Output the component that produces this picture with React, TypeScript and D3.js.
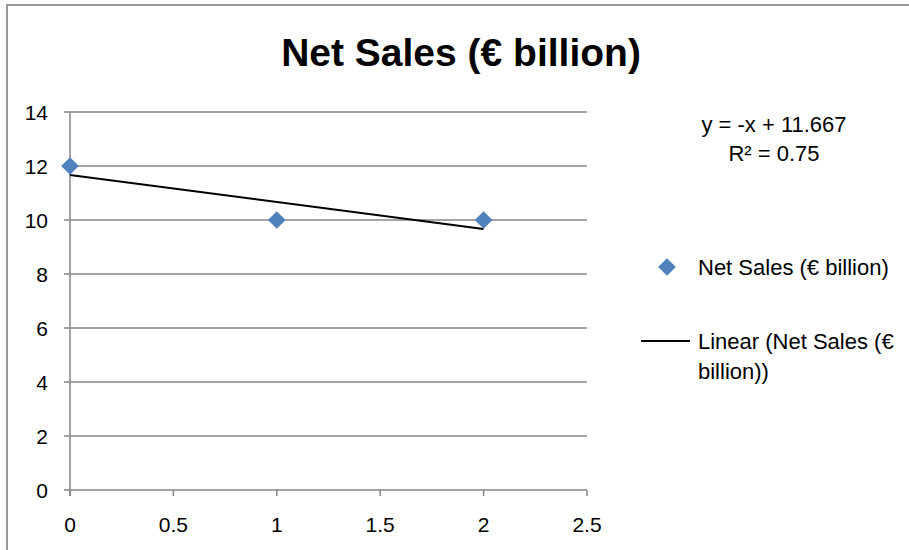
import React from "react";
import * as d3 from "d3";

const xValues = [0, 1, 2];
const salesValues = [12, 10, 10];
const xTicks = [0, 0.5, 1, 1.5, 2, 2.5];
const yTicks = [0, 2, 4, 6, 8, 10, 12, 14];
const title = "Net Sales (€ billion)";
const seriesName = "Net Sales (€ billion)";

const W = 909;
const H = 550;
const FONT = "'Liberation Sans', Arial, sans-serif";
const GRID = "#868686";
const BLUE = "#4F81BD";

export default function App() {
  const x = d3.scaleLinear().domain([0, 2.5]).range([70, 587]);
  const y = d3.scaleLinear().domain([0, 14]).range([490, 112]);

  // least-squares trendline
  const n = xValues.length;
  const mx = d3.mean(xValues)!;
  const my = d3.mean(salesValues)!;
  let sxy = 0, sxx = 0, syy = 0;
  for (let i = 0; i < n; i++) {
    sxy += (xValues[i] - mx) * (salesValues[i] - my);
    sxx += (xValues[i] - mx) ** 2;
    syy += (salesValues[i] - my) ** 2;
  }
  const slope = sxy / sxx;
  const intercept = my - slope * mx;
  const r2 = (sxy * sxy) / (sxx * syy);
  const xMin = d3.min(xValues)!;
  const xMax = d3.max(xValues)!;
  const line = d3
    .line<number>()
    .x((d) => x(d))
    .y((d) => y(slope * d + intercept));

  const slopeStr = slope === -1 ? "-x" : slope === 1 ? "x" : `${+slope.toFixed(3)}x`;
  const eq = `y = ${slopeStr} + ${intercept.toFixed(3)}`;
  const r2Str = `R² = ${+r2.toFixed(4)}`;

  const diamond = d3.symbol().type(d3.symbolDiamond2).size(200)();

  return (
    <svg
      width={W}
      height={H}
      style={{ position: "absolute", left: 0, top: 0, background: "#fff" }}
      fontFamily={FONT}
    >
      <rect x={0} y={0} width={W} height={H} fill="#fff" />
      {/* chart border */}
      <path d={`M7,${H} L7,5 L${W},5`} fill="none" stroke="#999" strokeWidth={2} />

      <text x={461} y={66} textAnchor="middle" fontSize={39} fontWeight="bold" fill="#000">
        {title}
      </text>

      {/* gridlines */}
      {yTicks.map((t) => (
        <line key={t} x1={64} x2={x(2.5)} y1={y(t)} y2={y(t)} stroke={GRID} strokeWidth={1.5} />
      ))}
      {/* y axis */}
      <line x1={x(0)} x2={x(0)} y1={y(14)} y2={y(0) + 6} stroke={GRID} strokeWidth={1.5} />
      {/* x ticks */}
      {xTicks.map((t) => (
        <line key={t} x1={x(t)} x2={x(t)} y1={y(0)} y2={y(0) + 6} stroke={GRID} strokeWidth={1.5} />
      ))}
      {yTicks.map((t) => (
        <text key={t} x={48} y={y(t) + 7.5} textAnchor="end" fontSize={21} fill="#000">
          {t}
        </text>
      ))}
      {xTicks.map((t) => (
        <text key={t} x={x(t)} y={532} textAnchor="middle" fontSize={21} fill="#000">
          {t}
        </text>
      ))}

      {/* trendline */}
      <path d={line([xMin, xMax])!} fill="none" stroke="#000" strokeWidth={2} />

      {/* points */}
      {xValues.map((v, i) => (
        <path key={i} d={diamond!} transform={`translate(${x(v)},${y(salesValues[i])})`} fill={BLUE} />
      ))}

      {/* equation */}
      <text x={774} y={132} textAnchor="middle" fontSize={22} fill="#000">
        {eq}
      </text>
      <text x={774} y={161} textAnchor="middle" fontSize={22} fill="#000">
        {r2Str}
      </text>

      {/* legend */}
      <path d={diamond!} transform="translate(667,267)" fill={BLUE} />
      <text x={698} y={275} fontSize={22} fill="#000">
        {seriesName}
      </text>
      <line x1={641} x2={690} y1={341} y2={341} stroke="#000" strokeWidth={2} />
      <text x={698} y={349} fontSize={22} fill="#000">
        {`Linear (${seriesName.replace(" billion)", "")}`}
      </text>
      <text x={698} y={379} fontSize={22} fill="#000">
        billion))
      </text>
    </svg>
  );
}
